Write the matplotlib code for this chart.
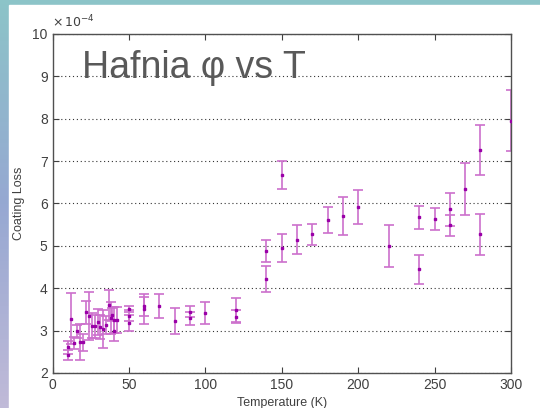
import numpy as np
import matplotlib.pyplot as plt
from matplotlib.patches import Rectangle

# ---- DATA (coating loss in units of 1e-4) ----
temps = [10, 10, 12, 14, 16, 18, 20, 22, 24, 26, 28, 30, 31, 33, 35, 37, 38, 39, 40, 40, 42,
         50, 50, 50, 60, 60, 70, 80, 90, 90, 100, 120, 120,
         140, 140, 150, 150, 160, 170, 180, 190, 200, 220, 240, 240, 250, 260, 260,
         270, 280, 280, 300]
loss = [2.61, 2.42, 3.28, 2.70, 2.98, 2.73, 2.72, 3.43, 3.35, 3.12, 3.10, 3.20, 3.08, 3.03, 3.13, 3.60, 3.30, 3.38, 3.00, 3.25, 3.25,
        3.52, 3.35, 3.18, 3.57, 3.51, 3.58, 3.23, 3.45, 3.29, 3.42, 3.49, 3.33,
        4.88, 4.22, 6.67, 4.94, 5.15, 5.27, 5.61, 5.71, 5.92, 5.00, 5.68, 4.45, 5.63, 5.86, 5.49,
        6.34, 7.26, 5.27, 7.95]
err = [0.15, 0.12, 0.60, 0.14, 0.16, 0.42, 0.20, 0.28, 0.56, 0.30, 0.27, 0.30, 0.28, 0.45, 0.22, 0.35, 0.38, 0.15, 0.24, 0.30, 0.31,
       0.07, 0.13, 0.18, 0.23, 0.36, 0.29, 0.30, 0.13, 0.15, 0.26, 0.28, 0.15,
       0.26, 0.30, 0.33, 0.33, 0.34, 0.24, 0.31, 0.45, 0.40, 0.50, 0.27, 0.34, 0.26, 0.38, 0.25,
       0.61, 0.59, 0.48, 0.72]

X_TICKS = [0, 50, 100, 150, 200, 250, 300]
Y_TICKS = [2, 3, 4, 5, 6, 7, 8, 9, 10]

plt.rcParams['font.family'] = ['Liberation Sans', 'DejaVu Sans']

fig = plt.figure(figsize=(5.4, 4.08), dpi=100)

# ---- slide background ----
bg = fig.add_axes([0, 0, 1, 1], zorder=-10)
top = np.array([140, 196, 200]) / 255
mid = np.array([150, 168, 210]) / 255
bot = np.array([192, 186, 216]) / 255
n = 100
grad = np.zeros((n, 2, 3))
for i in range(n):
    t = i / (n - 1)
    if t < 0.5:
        c = top + (mid - top) * t * 2
    else:
        c = mid + (bot - mid) * (t - 0.5) * 2
    grad[i, :, :] = c
bg.imshow(grad, aspect='auto', extent=[0, 1, 0, 1])
bg.add_patch(Rectangle((9 / 540, 0), 1, 1 - 5 / 408, color='white'))
bg.set_xlim(0, 1)
bg.set_ylim(0, 1)
bg.axis('off')

# ---- PLOT ----
ax = fig.add_axes([52.5 / 540, 35 / 408, 458.5 / 540, 339 / 408])
ax.errorbar(temps, loss, yerr=err, fmt='none', ecolor='#cc70cc', elinewidth=1.2,
            capsize=3.8, capthick=1.2, zorder=2)
ax.plot(temps, loss, 's', color='#9a00a8', markersize=2.0, zorder=3)

ax.set_xlim(0, 300)
ax.set_ylim(2, 10)
ax.set_xticks(X_TICKS)
ax.set_yticks(Y_TICKS)
ax.yaxis.grid(True, linestyle=(0, (1, 2.5)), color='#333333', linewidth=0.8)
ax.set_axisbelow(True)
ax.tick_params(direction='in', top=True, right=True, length=4, colors='#404040',
               labelsize=10, labelcolor='#404040')
for s in ax.spines.values():
    s.set_color('#505050')
    s.set_linewidth(1.0)

ax.set_xlabel('Temperature (K)', fontsize=9, color='#404040', labelpad=4)
ax.set_ylabel('Coating Loss', fontsize=9, color='#404040', labelpad=5)
ax.text(0.0, 1.012, r'$\times\,10^{-4}$', transform=ax.transAxes, fontsize=9,
        color='#404040', ha='left', va='bottom')

ax.text(0.065, 0.9, 'Hafnia φ vs T', transform=ax.transAxes, fontsize=27,
        color='#595959', ha='left', va='center')

plt.savefig('out.png', dpi=100)
